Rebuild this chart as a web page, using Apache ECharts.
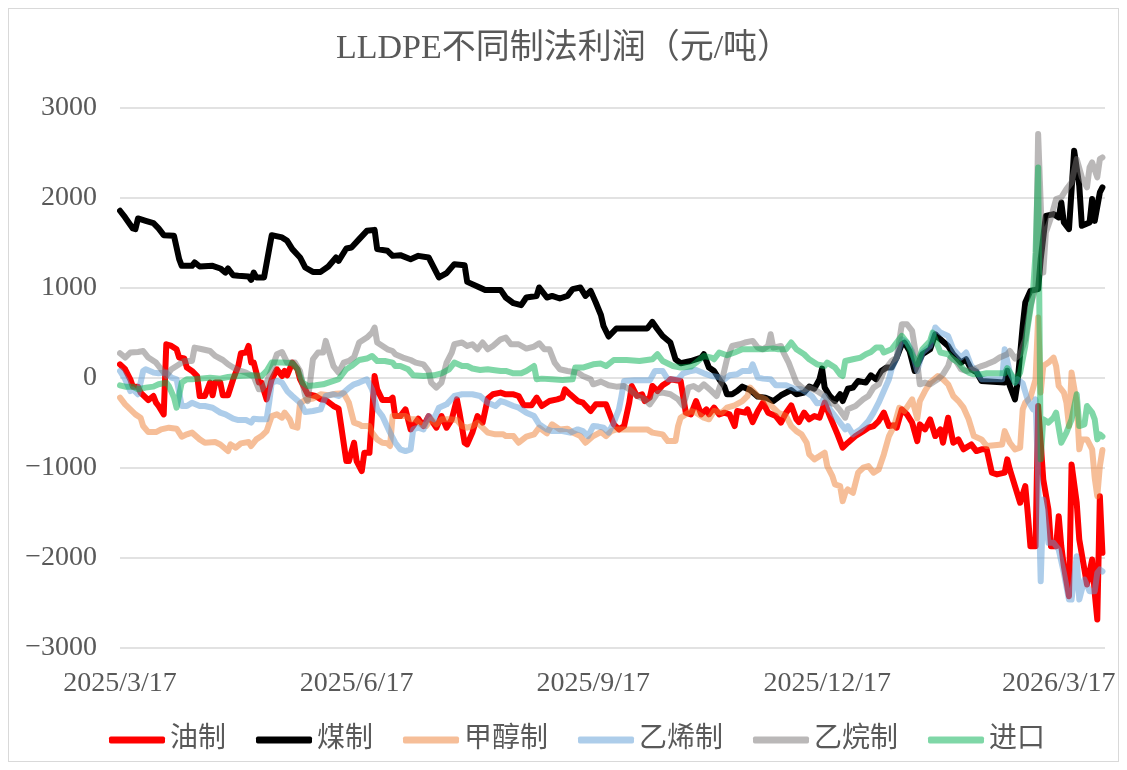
<!DOCTYPE html>
<html>
<head>
<meta charset="utf-8">
<title>LLDPE不同制法利润</title>
<script src="https://cdn.jsdelivr.net/npm/echarts@6/dist/echarts.min.js"></script>
<style>
  html, body { margin: 0; padding: 0; background: #fff; }
  #wrap { position: relative; width: 1127px; height: 770px; }
  #chart { width: 1127px; height: 770px; }
  #frame { position: absolute; left: 8px; top: 8px; right: 8px; bottom: 8px; border: 1px solid #d9d9d9; pointer-events: none; }
</style>
</head>
<body>
<div id="wrap">
  <div id="chart"></div>
  <div id="frame"></div>
</div>
<script>
// 起始日期，下面各序列的第一个数是距起始日的天数
const START = '2025-03-17';
const LAST_DAY = 383;
const tickDates = ['2025-03-17', '2025-06-17', '2025-09-17', '2025-12-17', '2026-03-17'];
const names = ['油制', '煤制', '甲醇制', '乙烯制', '乙烷制', '进口'];

// 油制
const oil = [[0,152],[2,97],[4,-14],[5,-96],[7,-96],[8,-162],[10,-218],[11,-245],[13,-200],[14,-274],[15,-311],[17,-404],[18,375],[20,356],[22,319],[23,227],[25,216],[26,116],[28,78],[30,22],[31,-200],[33,-200],[35,-51],[36,-192],[37,-51],[39,-51],[40,-192],[42,-192],[44,-14],[46,133],[47,275],[49,283],[50,356],[51,171],[52,171],[54,-51],[55,-51],[57,-237],[59,-14],[61,97],[63,22],[64,78],[65,30],[67,171],[69,97],[70,-14],[72,-126],[73,-181],[76,-200],[78,-237],[80,-245],[83,-311],[85,-340],[86,-534],[88,-923],[89,-923],[91,-719],[92,-923],[94,-1034],[95,-830],[97,-830],[99,22],[100,-126],[102,-245],[105,-245],[106,-218],[107,-423],[109,-423],[111,-348],[113,-571],[116,-452],[118,-534],[120,-423],[123,-552],[125,-423],[127,-552],[129,-459],[131,-237],[132,-385],[134,-719],[135,-738],[137,-607],[139,-423],[141,-496],[143,-229],[145,-181],[148,-162],[150,-181],[153,-181],[155,-200],[157,-304],[160,-304],[162,-218],[164,-311],[167,-256],[170,-237],[172,-218],[173,-126],[175,-181],[178,-256],[180,-274],[183,-367],[185,-293],[189,-293],[192,-515],[194,-571],[196,-534],[198,-274],[199,-89],[201,-200],[203,-181],[204,-256],[206,-218],[207,-89],[209,-145],[211,-81],[213,-44],[214,-14],[218,-33],[220,-385],[222,-404],[224,-256],[226,-404],[228,-348],[229,-404],[231,-330],[233,-404],[235,-385],[237,-404],[239,-534],[240,-367],[243,-385],[244,-348],[246,-490],[248,-367],[250,-274],[252,-385],[255,-423],[257,-496],[259,-385],[261,-304],[263,-459],[264,-490],[266,-385],[268,-459],[270,-423],[272,-441],[274,-274],[276,-423],[279,-626],[281,-774],[283,-719],[286,-645],[289,-590],[291,-552],[293,-534],[295,-478],[297,-385],[299,-534],[301,-526],[302,-552],[304,-348],[306,-404],[308,-496],[310,-701],[311,-515],[313,-571],[315,-459],[317,-645],[319,-571],[320,-719],[322,-441],[324,-719],[326,-682],[328,-793],[329,-774],[331,-738],[333,-812],[335,-793],[337,-793],[339,-1052],[341,-1071],[344,-1052],[345,-904],[346,-1016],[348,-1201],[350,-1386],[352,-1201],[353,-1516],[354,-1869],[356,-1869],[357,-311],[359,-1127],[361,-1461],[362,-1869],[364,-1869],[365,-1535],[366,-1869],[367,-2091],[369,-2425],[370,-960],[372,-1386],[373,-1794],[376,-2295],[378,-2017],[379,-2387],[380,-2684],[381,-1313],[382,-1942]];

// 煤制
const coal = [[0,1858],[2,1784],[5,1662],[6,1654],[7,1773],[10,1746],[13,1721],[15,1662],[17,1587],[21,1580],[23,1320],[24,1246],[28,1246],[29,1284],[31,1239],[36,1246],[39,1217],[41,1172],[42,1217],[44,1142],[46,1135],[50,1128],[51,1090],[52,1172],[53,1117],[56,1117],[58,1432],[59,1587],[63,1562],[65,1524],[67,1432],[70,1339],[72,1228],[75,1179],[78,1179],[81,1239],[84,1339],[85,1301],[88,1439],[90,1450],[93,1543],[96,1635],[99,1646],[100,1432],[104,1413],[106,1357],[109,1365],[113,1320],[116,1357],[120,1339],[122,1228],[124,1117],[127,1165],[130,1265],[134,1254],[135,1068],[139,1017],[142,979],[148,979],[150,894],[153,831],[156,809],[158,894],[162,912],[163,1006],[166,894],[168,912],[171,883],[174,912],[176,987],[179,1006],[181,912],[183,968],[185,839],[187,700],[188,578],[190,461],[193,550],[205,550],[207,623],[209,542],[211,467],[214,394],[216,208],[218,164],[222,189],[226,227],[227,264],[229,116],[231,78],[233,-14],[235,-96],[236,-181],[238,-181],[240,-145],[242,-96],[245,-133],[248,-207],[251,-218],[254,-256],[257,-192],[261,-133],[263,-181],[266,-162],[268,-96],[270,-118],[272,-14],[273,105],[274,-107],[276,-200],[278,-256],[280,-180],[281,-256],[283,-120],[285,-107],[287,-33],[290,-51],[292,30],[294,-14],[296,78],[298,116],[300,116],[302,227],[304,375],[305,394],[307,300],[309,78],[312,264],[315,319],[317,486],[319,430],[322,356],[324,264],[327,171],[329,208],[331,97],[333,67],[335,-33],[344,-51],[345,80],[346,-89],[348,-237],[349,-51],[351,578],[352,839],[354,968],[357,987],[358,1320],[360,1802],[363,1821],[365,1784],[366,1951],[367,1728],[369,1654],[371,2525],[373,2136],[374,1691],[377,1728],[378,1988],[379,1746],[381,2062],[382,2118]];

// 甲醇制
const methanol = [[0,-218],[2,-293],[4,-348],[6,-404],[8,-441],[9,-534],[11,-601],[14,-601],[16,-571],[19,-552],[22,-563],[24,-652],[26,-626],[28,-607],[31,-682],[33,-719],[37,-712],[39,-738],[42,-812],[43,-738],[45,-774],[47,-726],[50,-712],[51,-756],[53,-682],[55,-645],[57,-590],[59,-423],[61,-404],[63,-441],[64,-385],[66,-459],[67,-534],[69,-552],[70,-281],[72,-245],[75,-229],[78,-181],[81,-192],[84,-174],[87,-170],[89,-274],[91,-496],[93,-515],[94,-534],[97,-534],[98,-607],[100,-682],[102,-719],[104,-726],[105,-756],[106,-423],[111,-423],[113,-459],[115,-459],[117,-515],[119,-534],[121,-459],[123,-515],[125,-459],[128,-459],[131,-467],[133,-534],[135,-552],[137,-534],[139,-496],[141,-552],[143,-607],[146,-626],[149,-626],[150,-645],[153,-645],[155,-719],[158,-652],[161,-626],[163,-552],[166,-615],[168,-515],[171,-571],[174,-563],[176,-607],[179,-645],[181,-719],[184,-645],[187,-600],[189,-645],[191,-590],[193,-571],[205,-571],[207,-607],[211,-626],[213,-701],[216,-701],[217,-534],[218,-441],[222,-367],[224,-385],[227,-441],[229,-459],[231,-367],[234,-385],[236,-330],[239,-304],[242,-256],[244,-200],[245,-107],[248,-200],[251,-237],[254,-330],[256,-385],[259,-423],[261,-534],[263,-590],[265,-626],[267,-719],[268,-849],[270,-904],[272,-868],[274,-830],[275,-979],[277,-1090],[278,-1182],[280,-1201],[281,-1368],[282,-1275],[283,-1238],[285,-1275],[287,-1052],[289,-997],[291,-979],[293,-1052],[295,-1016],[297,-849],[299,-645],[301,-534],[303,-330],[305,-367],[308,-237],[310,-450],[311,-256],[313,-145],[315,-51],[318,22],[320,-14],[322,-70],[324,-200],[326,-256],[328,-330],[330,-459],[332,-645],[335,-682],[337,-756],[343,-738],[344,-590],[346,-719],[348,-793],[350,-774],[351,-348],[352,-274],[354,-218],[356,-14],[357,672],[358,-162],[359,133],[361,171],[363,227],[364,133],[365,-89],[367,-162],[368,-274],[369,-534],[370,60],[372,-274],[373,-793],[374,-682],[376,-682],[378,-793],[379,-1108],[380,-1313],[381,-980],[382,-800]];

// 乙烯制
const ethylene = [[0,78],[2,-14],[4,-145],[5,-126],[7,-181],[9,78],[10,97],[13,60],[15,52],[18,60],[20,4],[22,-14],[24,-311],[26,-311],[28,-274],[31,-311],[33,-311],[36,-330],[39,-385],[41,-404],[44,-452],[46,-467],[49,-467],[51,-496],[52,-452],[54,-459],[57,-459],[58,-274],[59,-51],[61,-33],[63,-51],[65,-145],[67,-200],[70,-274],[72,-378],[75,-367],[78,-348],[80,-200],[83,-181],[85,-200],[87,-162],[89,-110],[91,-70],[93,-51],[96,-14],[98,-126],[100,-348],[102,-423],[105,-607],[107,-719],[109,-793],[111,-812],[113,-793],[114,-571],[116,-552],[118,-571],[120,-423],[122,-459],[124,-330],[127,-293],[130,-200],[133,-181],[137,-181],[140,-200],[143,-274],[146,-311],[148,-256],[150,-274],[153,-311],[155,-330],[158,-385],[161,-423],[163,-515],[166,-571],[168,-590],[172,-590],[175,-607],[178,-571],[180,-590],[182,-645],[184,-534],[186,-540],[188,-552],[190,-607],[192,-496],[194,-348],[195,-200],[196,-33],[200,-26],[206,-26],[208,78],[211,78],[213,-14],[217,-14],[219,52],[222,78],[224,89],[227,52],[230,22],[232,15],[235,-14],[237,30],[240,41],[242,78],[245,78],[246,152],[248,4],[250,-7],[253,-14],[255,-81],[259,-81],[262,-118],[265,-126],[267,-162],[269,-200],[271,-281],[273,-274],[274,-200],[276,-348],[279,-459],[281,-534],[282,-571],[283,-534],[285,-626],[288,-571],[291,-478],[293,-385],[295,-274],[297,-145],[299,-14],[300,97],[302,227],[304,430],[306,394],[308,300],[310,78],[312,283],[315,356],[317,561],[319,505],[322,467],[324,319],[327,227],[329,283],[331,133],[333,78],[335,-14],[343,-14],[344,319],[346,60],[348,-51],[349,-14],[351,-60],[353,-250],[355,-348],[356,-237],[357,-1127],[358,-2258],[359,-1349],[361,-1831],[363,-1831],[365,-1906],[367,-2165],[369,-2462],[370,-2462],[372,-1980],[373,-2462],[375,-2239],[377,-2369],[379,-2369],[380,-2165],[381,-2128],[382,-2150]];

// 乙烷制
const ethane = [[0,275],[2,227],[4,283],[7,289],[9,300],[11,227],[14,171],[16,97],[18,22],[20,97],[22,133],[25,189],[28,189],[29,338],[32,319],[35,300],[37,245],[40,200],[42,152],[44,116],[46,89],[49,60],[52,15],[54,-126],[55,-126],[57,-51],[59,97],[61,264],[63,289],[65,171],[68,171],[70,78],[72,-200],[73,-256],[75,208],[77,283],[79,283],[80,412],[81,319],[83,133],[85,60],[87,170],[89,190],[91,230],[93,394],[96,449],[98,505],[99,561],[100,394],[104,319],[106,300],[107,264],[110,227],[113,200],[115,171],[118,152],[120,78],[121,-51],[123,-107],[125,-51],[127,171],[129,283],[130,375],[133,394],[135,356],[137,375],[139,319],[141,394],[143,319],[145,356],[148,430],[150,449],[152,375],[155,375],[158,327],[161,349],[163,386],[165,319],[167,319],[169,171],[171,97],[174,78],[178,60],[180,22],[183,-14],[184,-70],[187,-40],[190,-81],[193,-96],[196,-89],[198,-126],[201,-200],[204,-237],[206,-293],[209,-170],[211,-162],[214,-181],[217,-237],[219,-311],[221,-107],[223,-89],[225,-126],[227,-70],[230,-145],[232,-200],[234,-33],[236,208],[238,356],[241,375],[243,394],[246,412],[248,338],[250,319],[252,356],[253,486],[254,338],[257,356],[258,283],[260,171],[261,97],[263,-51],[266,-126],[268,-107],[271,-145],[274,-200],[276,-274],[278,-293],[280,-360],[282,-441],[283,-348],[286,-311],[289,-237],[291,-200],[293,-107],[295,-70],[297,78],[300,189],[302,227],[304,597],[306,597],[308,523],[310,171],[311,-70],[313,-51],[315,-70],[318,-14],[320,41],[322,133],[323,227],[325,189],[327,97],[329,78],[332,97],[335,133],[337,152],[340,189],[342,227],[345,264],[346,300],[348,216],[350,264],[352,430],[354,800],[356,1000],[357,2711],[359,1172],[360,1617],[362,1784],[364,1988],[366,2007],[368,2099],[370,2173],[372,2432],[374,2229],[376,2118],[377,2340],[378,2396],[380,2229],[381,2432],[382,2451]];

// 进口
const imported = [[0,-81],[2,-96],[5,-96],[7,-126],[10,-107],[13,-96],[15,-70],[18,-51],[19,-89],[21,-218],[22,-330],[24,-51],[26,-14],[28,-14],[31,-7],[35,4],[39,-7],[42,11],[46,22],[52,30],[55,22],[57,78],[59,171],[63,171],[67,164],[69,97],[71,-51],[73,-89],[76,-81],[79,-70],[81,-51],[85,-14],[88,97],[90,133],[93,200],[96,216],[98,245],[100,189],[103,189],[106,171],[107,133],[109,133],[112,97],[114,30],[118,22],[122,30],[125,52],[128,97],[130,171],[133,133],[135,133],[137,105],[140,89],[143,97],[145,89],[148,78],[150,78],[153,52],[156,52],[158,78],[161,133],[162,-14],[164,-7],[168,-14],[172,-22],[176,-14],[177,116],[180,116],[184,152],[187,160],[189,133],[192,200],[197,200],[202,189],[207,208],[209,264],[211,189],[215,133],[218,116],[222,127],[224,171],[227,245],[230,227],[231,208],[233,283],[236,253],[239,283],[242,319],[250,319],[254,327],[256,319],[259,319],[261,394],[263,319],[266,264],[268,208],[271,152],[274,133],[275,171],[278,116],[280,40],[281,22],[282,189],[285,208],[288,227],[290,264],[292,289],[294,338],[296,338],[297,283],[300,319],[302,394],[304,467],[306,394],[308,264],[310,152],[312,319],[315,412],[316,505],[319,283],[322,264],[324,208],[326,171],[328,97],[330,60],[332,41],[335,41],[337,52],[344,52],[345,110],[347,22],[348,-51],[350,60],[352,356],[353,578],[355,950],[356,1395],[357,2340],[358,-904],[359,-459],[361,-496],[363,-441],[364,-385],[366,-719],[368,-607],[370,-459],[372,-181],[373,-534],[375,-515],[376,-311],[378,-385],[379,-459],[380,-682],[381,-626],[382,-650]];

const FONT = "'Liberation Serif', 'Noto Sans CJK SC', serif";
const TEXT = '#595959';
const colors = ['#ff0000', '#000000', 'rgba(237,125,49,0.5)', 'rgba(91,155,213,0.5)', 'rgba(118,113,113,0.5)', 'rgba(0,176,80,0.5)'];

function toTime(s) {
  const p = s.split('-').map(Number);
  return new Date(p[0], p[1] - 1, p[2]).getTime();
}
const startParts = START.split('-').map(Number);
function dayTime(d) {
  return new Date(startParts[0], startParts[1] - 1, startParts[2] + d).getTime();
}

const chart = echarts.init(document.getElementById('chart'));
const seriesData = [oil, coal, methanol, ethylene, ethane, imported];

const option = {
  animation: false,
  backgroundColor: '#fff',
  title: {
    text: 'LLDPE不同制法利润（元/吨）',
    left: 'center',
    top: 27,
    textStyle: { fontSize: 34, fontWeight: 'normal', color: TEXT, fontFamily: FONT }
  },
  legend: {
    data: names,
    left: 104,
    top: 721,
    icon: 'roundRect',
    itemWidth: 56,
    itemHeight: 7,
    itemGap: 30,
    textStyle: { fontSize: 28, color: TEXT, fontFamily: FONT }
  },
  grid: { left: 120, right: 22, top: 108, bottom: 122 },
  xAxis: {
    type: 'time',
    min: dayTime(0),
    max: dayTime(LAST_DAY),
    axisLine: { show: false },
    axisTick: { show: false },
    splitLine: { show: false },
    axisLabel: {
      customValues: tickDates.map(toTime),
      formatter: '{yyyy}/{M}/{d}',
      fontSize: 28,
      color: TEXT,
      fontFamily: FONT,
      margin: 22,
      hideOverlap: false
    }
  },
  yAxis: {
    type: 'value',
    min: -3000,
    max: 3000,
    interval: 1000,
    axisLine: { show: false },
    axisTick: { show: false },
    splitLine: { lineStyle: { color: '#d9d9d9', width: 1.5 } },
    axisLabel: {
      fontSize: 28,
      color: TEXT,
      fontFamily: FONT,
      margin: 23,
      formatter: v => (v < 0 ? '−' + Math.abs(v) : String(v))
    }
  },
  series: names.map((name, i) => ({
    name: name,
    type: 'line',
    data: seriesData[i].map(p => [dayTime(p[0]), p[1]]),
    showSymbol: false,
    symbol: 'none',
    color: colors[i],
    lineStyle: { width: 6, color: colors[i], cap: 'round', join: 'round' },
    emphasis: { disabled: true }
  }))
};

chart.setOption(option);
</script>
</body>
</html>
